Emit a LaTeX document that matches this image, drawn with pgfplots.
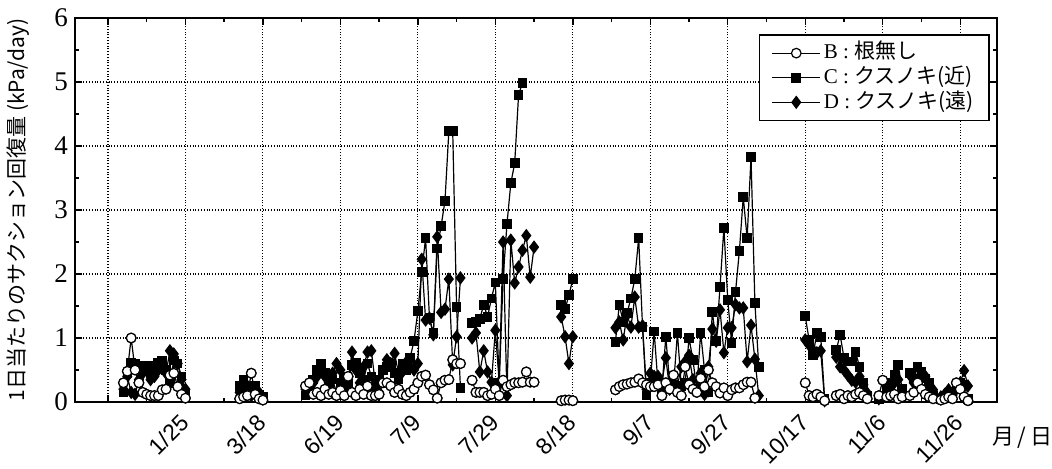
\documentclass[border=0pt]{standalone}
\usepackage{fontspec}
\setmainfont{Liberation Serif}
\newfontfamily\cjk{Noto Sans CJK JP}
\newfontfamily\lsans{Liberation Sans}
\usepackage{pgfplots}
\pgfplotsset{compat=1.18}

% x = day index (one grid step = 20 days), gaps marked with nan
\pgfplotstableread{
x y
4 0.3
5 0.48
6 1.0
7 0.5
8 0.3
9 0.15
10 0.12
11 0.1
12 0.1
13 0.1
14 0.19
15 0.2
16 0.42
17 0.45
18 0.24
19 0.12
20 0.06
21 nan
34 0.05
35 0.08
36 0.1
37 0.45
38 0.12
39 0.05
40 0.03
41 nan
51 0.25
52 0.3
53 0.12
54 0.15
55 0.1
56 0.2
57 0.12
58 0.15
59 0.1
60 0.18
61 0.1
62 0.4
63 0.15
64 0.1
65 0.2
66 0.12
67 0.25
68 0.1
69 0.1
70 0.12
71 0.3
72 0.3
73 0.25
74 0.15
75 0.2
76 0.12
77 0.1
78 0.15
79 0.2
80 0.3
81 0.4
82 0.42
83 0.27
84 0.19
85 0.06
86 0.3
87 0.34
88 0.35
89 0.66
90 0.6
91 0.6
92 nan
94 0.34
95 0.15
96 0.15
97 0.15
98 0.1
99 0.12
100 0.2
101 0.1
102 0.34
103 0.24
104 0.27
105 0.3
106 0.3
107 0.31
108 0.47
109 0.31
110 0.31
111 nan
117 0.02
118 0.03
119 0.03
120 0.02
121 nan
131 0.19
132 0.24
133 0.27
134 0.28
135 0.3
136 0.31
137 0.36
138 0.3
139 0.27
140 0.24
141 0.24
142 0.27
143 0.1
144 0.3
145 0.2
146 0.42
147 0.15
148 0.1
149 0.55
150 0.27
151 0.2
152 0.15
153 0.37
154 0.24
155 0.5
156 0.3
157 0.24
158 0.14
159 0.22
160 0.1
161 0.19
162 0.22
163 0.22
164 0.27
165 0.31
166 0.31
167 0.06
168 nan
180 0.3
181 0.1
182 0.08
183 0.12
184 0.08
185 0.02
186 nan
188 0.1
189 0.12
190 0.05
191 0.1
192 0.08
193 0.12
194 0.15
195 0.1
196 0.05
197 nan
199 0.1
200 0.34
201 0.08
202 0.1
203 0.12
204 0.05
205 0.08
206 nan
207 0.1
208 0.15
209 0.3
210 0.2
211 0.12
212 0.08
213 0.05
214 nan
215 0.03
216 0.05
217 0.08
218 0.05
219 0.3
220 0.2
221 0.08
222 0.02
}\seriesB

\pgfplotstableread{
x y
4 0.15
5 0.45
6 0.62
7 0.6
8 0.57
9 0.55
10 0.57
11 0.45
12 0.57
13 0.62
14 0.65
15 0.5
16 0.3
17 0.65
18 0.6
19 0.4
20 0.15
21 nan
34 0.25
35 0.35
36 0.2
37 0.15
38 0.25
39 0.12
40 0.08
41 nan
51 0.1
52 0.2
53 0.35
54 0.5
55 0.6
56 0.45
57 0.3
58 0.35
59 0.15
60 0.3
61 0.4
62 0.3
63 0.58
64 0.62
65 0.45
66 0.35
67 0.6
68 0.4
69 0.2
70 0.35
71 0.5
72 0.55
73 0.6
74 0.45
75 0.35
76 0.6
77 0.5
78 0.69
79 0.95
80 1.42
81 2.03
82 2.56
83 1.31
84 1.08
85 2.4
86 2.75
87 3.14
88 4.23
89 4.23
90 1.48
91 0.22
92 nan
94 1.23
95 1.25
96 1.3
97 1.52
98 1.33
99 1.62
100 1.87
101 0.3
102 1.92
103 2.78
104 3.42
105 3.73
106 4.8
107 4.98
108 nan
117 1.52
118 1.45
119 1.67
120 1.92
121 nan
131 0.94
132 1.52
133 1.25
134 1.39
135 1.62
136 1.92
137 2.56
138 1.17
139 0.1
140 0.3
141 1.1
142 0.27
143 0.2
144 1.02
145 0.3
146 0.25
147 1.08
148 0.25
149 0.3
150 1.0
151 0.66
152 0.2
153 1.08
154 0.5
155 0.15
156 1.41
157 0.95
158 1.8
159 2.72
160 1.59
161 0.92
162 1.72
163 2.36
164 3.2
165 2.56
166 3.83
167 1.55
168 0.55
169 nan
180 1.34
181 0.97
182 0.73
183 1.08
184 1.02
185 0.05
186 nan
188 0.81
189 1.05
190 0.69
191 0.63
192 0.63
193 0.78
194 0.55
195 0.3
196 0.1
197 nan
199 0.05
200 0.1
201 0.2
202 0.3
203 0.42
204 0.58
205 0.2
206 nan
207 0.45
208 0.37
209 0.55
210 0.47
211 0.37
212 0.3
213 0.1
214 nan
215 0.05
216 0.1
217 0.12
218 0.15
219 0.2
220 0.3
221 0.27
222 0.05
}\seriesC

\pgfplotstableread{
x y
4 0.2
5 0.4
6 0.15
7 0.12
8 0.35
9 0.45
10 0.5
11 0.35
12 0.4
13 0.5
14 0.6
15 0.45
16 0.8
17 0.75
18 0.6
19 0.35
20 0.2
21 nan
34 0.15
35 0.3
36 0.25
37 0.1
38 0.2
39 0.15
40 0.05
41 nan
51 0.2
52 0.15
53 0.3
54 0.4
55 0.53
56 0.4
57 0.3
58 0.45
59 0.6
60 0.5
61 0.2
62 0.35
63 0.78
64 0.5
65 0.3
66 0.55
67 0.78
68 0.8
69 0.3
70 0.15
71 0.5
72 0.66
73 0.6
74 0.76
75 0.45
76 0.47
77 0.62
78 0.55
79 0.5
80 0.6
81 2.23
82 1.28
83 1.31
84 1.05
85 2.58
86 1.4
87 1.45
88 1.92
89 0.58
90 1.02
91 1.94
92 nan
94 1.0
95 1.08
96 0.47
97 0.8
98 0.47
99 0.31
100 1.12
101 0.31
102 2.5
103 0.1
104 2.53
105 1.86
106 2.11
107 2.37
108 2.6
109 1.95
110 2.42
111 nan
117 1.33
118 1.02
119 0.6
120 1.02
121 nan
131 1.16
132 1.25
133 0.97
134 1.36
135 1.17
136 1.64
137 1.17
138 1.19
139 0.2
140 0.45
141 0.4
142 0.4
143 0.3
144 0.69
145 0.2
146 0.3
147 0.25
148 0.55
149 0.63
150 0.73
151 0.35
152 0.2
153 0.45
154 0.12
155 0.55
156 1.14
157 0.95
158 1.44
159 0.77
160 1.16
161 1.16
162 1.52
163 1.47
164 1.47
165 0.63
166 1.2
167 0.67
168 0.1
169 nan
180 0.97
181 0.89
182 0.81
183 0.77
184 0.8
185 0.02
186 nan
188 0.7
189 0.55
190 0.5
191 0.42
192 0.34
193 0.31
194 0.4
195 0.27
196 0.14
197 nan
199 0.05
200 0.08
201 0.15
202 0.19
203 0.3
204 0.35
205 0.1
206 nan
207 0.42
208 0.3
209 0.35
210 0.45
211 0.4
212 0.19
213 0.19
214 nan
215 0.08
216 0.12
217 0.19
218 0.1
219 0.2
220 0.3
221 0.49
222 0.25
}\seriesD

\begin{document}
\begin{tikzpicture}
\begin{axis}[
  name=ax,
  scale only axis, width=461pt, height=192pt,
  xmin=-8.5, xmax=229.5, ymin=0, ymax=6,
  xtick={0,20,...,220},
  xticklabels={,1/25,3/18,6/19,7/9,7/29,8/18,9/7,9/27,10/17,11/6,11/26},
  ytick={0,1,...,6},
  minor x tick num=1, minor y tick num=1,
  xtick pos=both, ytick pos=both,
  xticklabel pos=lower, yticklabel pos=left,
  tick align=inside, major tick length=3.5pt, minor tick length=2pt,
  every tick/.style={black, line width=0.7pt},
  grid=major, major grid style={densely dotted, black, line width=0.6pt},
  axis line style={line width=1pt},
  unbounded coords=jump,
  /pgf/number format/assume math mode=true,
  yticklabel style={font=\fontsize{13.5}{14}\selectfont},
  xticklabel style={font=\lsans\fontsize{11.5}{12}\selectfont, yshift=-6pt, xshift=2pt, rotate=45, anchor=east},
  legend style={at={(0.992,0.958)}, anchor=north east, draw=black, line width=0.7pt,
    font=\fontsize{10.5}{11}\selectfont, inner xsep=6pt, inner ysep=3pt, row sep=0pt,
    nodes={inner sep=1.5pt, text height=7.5pt, text depth=1.8pt}},
  legend cell align=left,
  legend image code/.code={\draw[mark repeat=2, mark phase=2, #1] plot coordinates {(0pt,0pt) (12pt,0pt) (24pt,0pt)};},
  every axis plot/.append style={black, line width=0.6pt},
]
\addplot[mark=*, mark size=2.4pt, mark options={fill=white, draw=black, line width=0.6pt}] table {\seriesB};
\addlegendentry{B : {\cjk 根無し}}
\addplot[mark=square*, mark size=2.1pt, mark options={fill=black}] table {\seriesC};
\addlegendentry{C : {\cjk クスノキ(近)}}
\addplot[mark=diamond*, mark size=2.9pt, mark options={fill=black}] table {\seriesD};
\addlegendentry{D : {\cjk クスノキ(遠)}}
\addplot[forget plot, only marks, mark=*, mark size=2.4pt, mark options={fill=white, draw=black, line width=0.6pt}] table {\seriesB};
\end{axis}
\node[rotate=90, font=\cjk\fontsize{10.5}{11}\selectfont] at ([xshift=-28.5pt]ax.west) {1日当たりのサクション回復量 (kPa/day)};
\node[anchor=west, font=\cjk\fontsize{11}{12}\selectfont] at ([xshift=-6pt, yshift=-18pt]ax.south east) {月\,/\,日};
\pgfresetboundingbox
\path ([xshift=-37.5pt, yshift=9pt]ax.north west) rectangle ([xshift=27.5pt, yshift=-33.5pt]ax.south east);
\end{tikzpicture}
\end{document}
